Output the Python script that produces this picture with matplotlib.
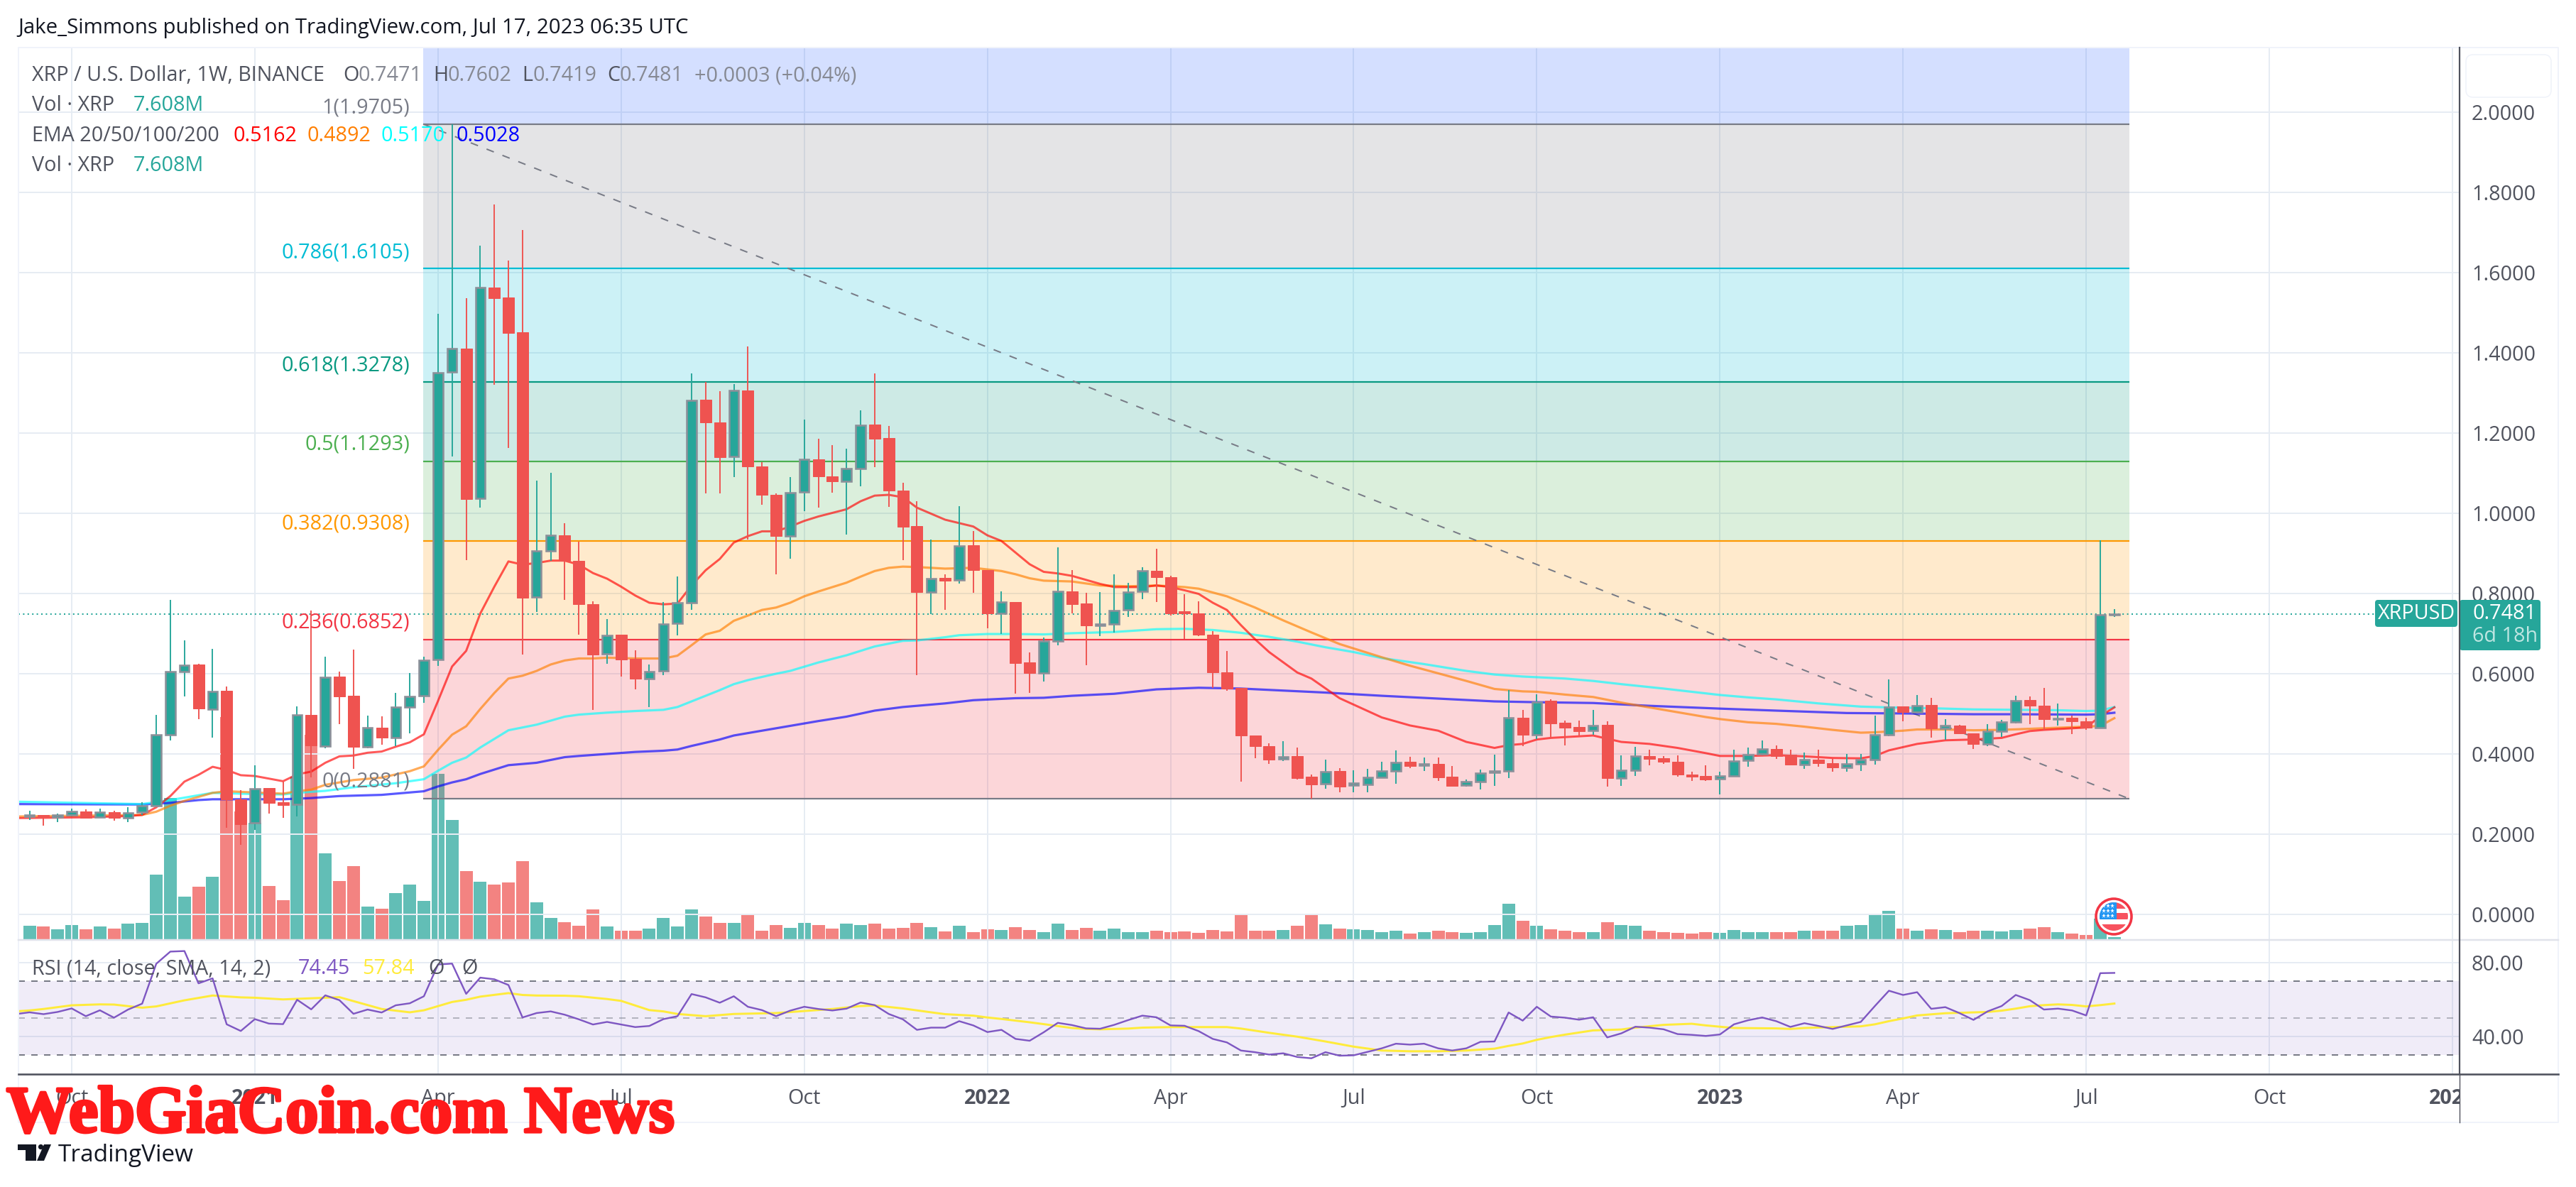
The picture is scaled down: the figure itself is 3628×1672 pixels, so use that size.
import numpy as np
import matplotlib
matplotlib.use("Agg")
import matplotlib.pyplot as plt
from matplotlib.patches import Rectangle, Circle, FancyBboxPatch, Polygon
from matplotlib.transforms import Bbox, TransformedBbox, IdentityTransform
from matplotlib.ticker import FuncFormatter
import matplotlib.patheffects as pe

# ---------- data ----------
opens = [.245,.247,.243,.248,.256,.243,.254,.240,.254,.271,
 .448,.606,.623,.512,.558,.287,.228,.315,.279,.275,
 .497,.420,.593,.546,.418,.465,.441,.516,.546,.635,
 1.352,1.41,1.038,1.562,1.538,1.451,.791,.906,.946,.882,
 .773,.649,.697,.637,.588,.607,.726,.777,1.283,1.226,
 1.142,1.307,1.117,1.046,.943,1.053,1.135,1.092,1.08,1.112,
 1.221,1.187,1.057,.968,.803,.839,.834,.921,.858,.751,
 .779,.629,.601,.682,.806,.775,.721,.724,.759,.805,
 .857,.840,.755,.750,.698,.604,.565,.446,.420,.387,
 .394,.343,.325,.357,.323,.324,.342,.358,.380,.372,
 .375,.344,.322,.331,.354,.358,.490,.448,.532,.477,
 .468,.459,.472,.339,.360,.395,.390,.381,.349,.345,
 .338,.345,.384,.400,.413,.399,.373,.386,.377,.367,
 .375,.386,.448,.518,.505,.522,.464,.471,.451,.425,
 .456,.480,.535,.520,.487,.490,.482,.466,.7471]
closes = [.247,.243,.248,.256,.241,.254,.240,.253,.270,.447,
 .606,.622,.514,.556,.287,.225,.313,.277,.273,.497,
 .422,.591,.544,.418,.465,.440,.516,.543,.633,1.35,
 1.41,1.036,1.562,1.536,1.45,.789,.906,.946,.882,.773,
 .647,.696,.635,.587,.606,.724,.777,1.281,1.226,1.14,
 1.306,1.117,1.046,.943,1.052,1.135,1.092,1.08,1.111,1.219,
 1.186,1.056,.967,.803,.838,.832,.918,.858,.751,.778,
 .626,.601,.682,.805,.774,.720,.724,.758,.804,.856,
 .840,.751,.750,.698,.604,.563,.446,.420,.386,.393,
 .340,.324,.356,.319,.327,.342,.357,.378,.370,.375,
 .342,.321,.331,.353,.358,.490,.447,.530,.476,.466,
 .456,.471,.339,.359,.394,.388,.380,.348,.344,.337,
 .345,.383,.399,.413,.395,.373,.385,.377,.366,.375,
 .386,.447,.517,.504,.520,.464,.471,.451,.424,.456,
 .480,.533,.520,.486,.489,.482,.466,.7471,.7481]
highs = [.259,.248,.251,.263,.262,.264,.258,.267,.279,.497,
 .784,.683,.625,.662,.569,.310,.372,.315,.331,.518,
 .757,.643,.606,.660,.495,.493,.553,.602,.643,1.497,
 1.9705,1.536,1.668,1.77,1.63,1.707,1.082,1.10,.976,.930,
 .780,.736,.697,.658,.623,.779,.842,1.349,1.327,1.304,
 1.323,1.416,1.128,1.05,1.09,1.234,1.186,1.17,1.161,1.257,
 1.348,1.218,1.076,1.03,.934,.848,1.017,.955,.858,.806,
 .779,.653,.69,.915,.859,.802,.804,.848,.827,.865,
 .912,.844,.799,.781,.706,.656,.565,.446,.426,.432,
 .416,.348,.385,.365,.360,.362,.381,.409,.393,.392,
 .392,.370,.336,.361,.399,.559,.510,.548,.537,.484,
 .484,.510,.481,.397,.418,.411,.395,.397,.355,.372,
 .355,.410,.416,.433,.422,.410,.403,.410,.387,.400,
 .400,.495,.585,.518,.547,.539,.487,.473,.451,.474,
 .485,.545,.543,.565,.525,.495,.491,.9328,.7602]
lows = [.235,.221,.230,.245,.239,.242,.233,.230,.248,.271,
 .433,.543,.487,.440,.216,.174,.210,.252,.241,.244,
 .342,.415,.474,.362,.415,.423,.419,.451,.528,.619,
 1.141,.884,1.014,1.321,1.162,.647,.754,.882,.784,.698,
 .510,.625,.593,.561,.516,.597,.696,.759,1.049,1.049,
 1.09,.935,1.022,.848,.886,1.006,1.014,1.052,.947,1.068,
 1.115,1.016,.884,.597,.749,.759,.824,.801,.713,.699,
 .551,.553,.58,.671,.751,.622,.694,.702,.741,.786,
 .779,.745,.686,.694,.565,.558,.331,.389,.375,.382,
 .337,.288,.314,.304,.304,.304,.339,.325,.364,.358,
 .332,.321,.319,.312,.320,.340,.419,.438,.439,.422,
 .444,.448,.319,.321,.345,.372,.375,.344,.332,.333,
 .300,.344,.369,.396,.387,.373,.362,.368,.356,.356,
 .357,.373,.444,.482,.501,.440,.436,.449,.412,.419,
 .442,.476,.474,.458,.470,.450,.460,.464,.7419]
volumes_m = [48,44,36,49,34,44,38,54,57,227,
 497,149,184,219,782,450,410,187,137,572,
 719,302,204,257,114,107,162,192,134,583,
 420,239,203,193,200,275,130,75,60,48,
 105,46,31,31,38,74,44,104,80,
 58,58,90,30,50,40,58,50,38,55,50,55,38,40,58,43,28,48,25,35,33,43,33,25,55,33,40,30,38,25,25,30,25,28,23,33,28,85,30,30,33,48,90,53,38,
 34,32,26,29,19,26,29,24,22,26,49,125,64,47,34,29,26,26,59,49,47,29,24,22,19,24,22,32,24,24,26,24,29,29,29,47,49,90,99,37,29,34,32,24,29,29,
 28,32,37,42,25,20,15,73,7.608]

ema20_idx = [-1,4,7,8,9,10,11,12,13,14,15,16,18,19,20,21,22,23,24,25,26,27,28,29,30,31,32,33,34,35,36,37,38,39,40,41,42,43,44,45,46,47,48,49,50,51,52,53,54,55,56,57,58,59,60,61,62,63,65,67,68,69,71,72,73,74,76,77,79,80,81,82,83,84,85,86,87,88,90,91,93,94,96,98,100,102,104,105,106,107,108,110,111,113,115,117,119,120,122,124,126,128,130,131,132,133,134,136,138,140,141,142,143,145,146,147,148]
ema20 = [.240,.242,.245,.248,.267,.295,.331,.348,.368,.360,.347,.345,.332,.349,.356,.378,.394,.396,.403,.406,.418,.429,.449,.532,.618,.657,.750,.817,.880,.872,.876,.882,.882,.872,.851,.837,.817,.795,.777,.773,.775,.820,.858,.886,.927,.943,.955,.955,.967,.981,.992,1.001,1.010,1.030,1.044,1.046,1.040,1.014,.984,.967,.945,.931,.873,.854,.850,.844,.824,.816,.816,.820,.816,.808,.799,.777,.759,.721,.686,.654,.603,.588,.539,.523,.491,.471,.458,.430,.415,.422,.425,.436,.440,.444,.446,.430,.425,.415,.402,.395,.395,.397,.394,.390,.389,.395,.409,.417,.425,.434,.436,.440,.449,.457,.460,.464,.466,.494,.5162]
ema50_idx = [-1,8,9,10,11,13,14,18,19,20,21,23,25,27,28,29,30,31,32,33,34,35,36,37,38,39,40,41,43,45,46,47,48,49,50,51,52,53,54,55,56,58,59,60,61,62,63,65,67,69,70,71,72,74,76,78,80,82,83,85,87,89,91,93,94,96,98,100,102,104,106,107,109,111,113,115,117,119,120,122,124,126,128,130,131,132,133,134,136,138,140,143,146,147,148]
ema50 = [.244,.248,.256,.271,.283,.303,.307,.301,.307,.311,.323,.335,.341,.357,.369,.410,.448,.469,.512,.552,.588,.595,.607,.623,.633,.638,.638,.640,.638,.638,.645,.671,.698,.707,.732,.745,.759,.765,.777,.793,.805,.827,.842,.856,.864,.867,.866,.862,.864,.856,.848,.838,.832,.830,.820,.818,.820,.816,.812,.793,.765,.733,.703,.674,.663,.641,.620,.601,.582,.562,.556,.555,.548,.542,.528,.516,.504,.492,.487,.479,.475,.468,.460,.453,.454,.456,.458,.461,.461,.459,.460,.464,.468,.470,.4892]
ema100_idx = [-1,8,10,11,13,16,18,19,21,23,26,28,29,30,31,32,34,36,38,39,41,43,45,46,47,49,50,51,53,54,56,58,60,62,63,65,66,68,70,72,74,77,80,82,84,86,88,90,92,94,96,99,102,104,106,109,111,113,116,120,122,124,127,130,132,135,138,141,144,146,147,148]
ema100 = [.281,.275,.285,.291,.303,.300,.299,.303,.308,.317,.327,.337,.358,.378,.391,.416,.459,.473,.493,.498,.503,.507,.510,.517,.531,.559,.574,.584,.600,.607,.628,.646,.668,.682,.683,.691,.696,.699,.699,.698,.701,.704,.711,.712,.709,.702,.692,.680,.666,.654,.639,.624,.607,.598,.593,.588,.582,.574,.563,.547,.541,.536,.526,.518,.516,.514,.511,.510,.509,.507,.508,.5170]
ema200_idx = [-1,8,10,12,13,18,20,22,25,28,29,30,31,32,34,36,38,39,41,43,45,46,47,49,50,53,56,58,60,62,65,67,70,72,74,77,80,83,86,89,92,96,100,104,107,111,115,120,124,129,133,138,141,146,147,148]
ema200 = [.275,.274,.278,.285,.287,.287,.290,.295,.298,.307,.319,.329,.337,.350,.372,.378,.392,.395,.400,.405,.408,.411,.420,.436,.446,.464,.482,.493,.508,.517,.526,.534,.539,.540,.545,.550,.561,.565,.563,.558,.553,.545,.538,.531,.529,.527,.520,.513,.508,.502,.501,.499,.499,.498,.499,.5028]

rsi_idx = list(range(-1, 149))
rsi = [52.1,53.1,52.1,53.3,55.2,51.0,54.2,50.2,54.6,57.8,79.4,
 86.0,86.3,68.8,71.5,46.6,43.0,49.4,47.0,46.7,59.9,
 54.7,62.3,59.7,52.3,54.6,53.0,56.9,58.0,61.8,79.0,
 79.5,63.1,71.9,71.0,67.9,50.3,52.7,53.6,51.8,49.3,
 46.5,47.9,46.5,45.1,45.7,49.4,51.0,63.0,61.2,58.3,
 61.8,56.1,54.3,51.0,54.0,56.1,54.9,54.1,55.1,58.4,
 57.0,52.2,49.3,43.6,44.8,44.8,48.3,46.0,42.4,43.6,
 38.7,37.7,42.3,47.4,46.2,44.4,44.2,46.3,48.9,51.3,
 50.4,46.0,45.8,42.9,38.7,36.8,32.4,31.5,30.2,30.9,
 28.9,28.2,31.5,29.6,29.8,31.7,33.6,36.1,35.6,36.1,
 33.6,32.4,33.6,37.1,37.3,53.0,48.6,56.1,50.8,50.2,
 49.1,50.4,39.5,41.7,45.3,44.8,43.9,41.3,40.9,40.3,
 41.1,46.6,48.8,50.3,48.3,45.2,47.2,45.7,44.1,46.0,
 47.9,56.5,64.8,62.5,64.0,55.0,55.9,52.7,49.0,53.6,
 56.5,62.5,59.7,54.6,55.1,54.1,51.4,74.3,74.45]
rsi_ma_idx = [-1,0,1,3,5,6,8,9,11,13,15,16,18,20,22,25,27,28,30,31,32,34,35,36,38,39,41,42,44,45,46,48,50,53,55,57,59,60,62,64,65,67,68,69,71,72,74,75,76,78,79,81,83,85,86,88,90,92,94,96,98,100,102,104,105,106,107,108,109,111,113,114,116,118,119,121,124,125,126,128,130,131,132,133,134,136,139,140,141,142,143,144,145,146,147,148]
rsi_ma = [53.6,54.1,54.9,56.9,57.4,57.3,55.6,56.3,59.6,62.2,61.2,61.0,60.1,60.7,61.3,54.9,53.1,54.2,58.7,59.9,61.6,63.5,62.5,62.2,62.1,61.8,60.3,59.3,54.3,53.6,52.2,51.0,52.2,52.7,53.8,54.9,56.5,56.8,55.2,53.1,52.1,51.3,50.3,49.5,47.7,46.7,44.6,44.1,43.9,44.3,44.8,45.1,45.1,45.1,44.3,42.0,39.9,37.3,34.5,32.4,32.0,32.0,32.4,33.4,34.9,36.2,38.2,39.7,41.0,43.3,43.8,44.8,46.3,46.9,46.0,44.6,44.4,44.1,44.6,45.1,45.5,46.6,48.3,49.8,51.4,52.6,53.3,54.0,55.1,56.4,57.0,57.4,57.1,56.3,57.0,57.84]

fib_levels = [1.9705,1.6105,1.3278,1.1293,0.9308,0.6852,0.2881]
fib_ratios = ["1","0.786","0.618","0.5","0.382","0.236","0"]
fib_colors = ["#787b86","#00bcd4","#089981","#4caf50","#ff9800","#f23645","#787b86"]
fib_label_y = [150,354,513,624,736,875,1099]
fib_top_band = 2.3
fib_top_color = "#2962ff"

month_idx = [3,16,29,42,55,68,81,94,107,120,133,146,159,172]
month_lbl = ["Oct","2021","Apr","Jul","Oct","2022","Apr","Jul","Oct","2023","Apr","Jul","Oct","2024"]
price_ticks = [0.0,0.2,0.4,0.6,0.8,1.0,1.2,1.4,1.6,1.8,2.0]
rsi_ticks = [40,80]
last_close = 0.7481

# ---------- canvas ----------
W, H = 3628, 1672
plt.rcParams['font.family'] = ['Open Sans', 'DejaVu Sans']
fig = plt.figure(figsize=(W/100, H/100), dpi=100, facecolor='white')

def rect(l, t, r, b):
    return [l/W, 1-b/H, (r-l)/W, (b-t)/H]

PX = 0.72   # one pixel in points
L, R, T, B1, B2 = 25.5, 3464, 67, 1323, 1513
XMIN, XMAX = (L-41.5)/19.84, (R-41.5)/19.84
n = len(opens)
x = np.arange(n)
o, c, h, l_ = map(np.array, (opens, closes, highs, lows))
up = c >= o
GREEN, RED = "#26a69a", "#ef5350"
GRID = "#e6ecf3"
AX_TXT = "#50535e"
FS = 20.7

ax_vol = fig.add_axes(rect(L, T, R, B1), zorder=1)
ax = fig.add_axes(rect(L, T, R, B1), zorder=2)
ax_rsi = fig.add_axes(rect(L, B1+2, R, B2), zorder=2)
ov = fig.add_axes([0, 0, 1, 1], zorder=10)
ov.set_xlim(0, W); ov.set_ylim(H, 0); ov.axis('off'); ov.patch.set_alpha(0)

# volume
ax_vol.set_xlim(XMIN, XMAX)
ax_vol.set_ylim(0, (B1-T)*2.5)
ax_vol.axis('off')
ax_vol.bar(x[up], np.array(volumes_m)[up], width=18/19.84, color=GREEN, alpha=0.72, lw=0)
ax_vol.bar(x[~up], np.array(volumes_m)[~up], width=18/19.84, color=RED, alpha=0.72, lw=0)

# main pane
ax.patch.set_alpha(0)
ax.set_xlim(XMIN, XMAX)
ax.set_ylim((1288-B1)/565, (1288-T)/565)
for s in ax.spines.values():
    s.set_visible(False)
ax.set_xticks(month_idx)
ax.set_yticks(price_ticks)
ax.yaxis.tick_right()
ax.yaxis.set_major_formatter(FuncFormatter(lambda v, _: f"{v:.4f}"))
ax.tick_params(axis='both', length=0, labelbottom=False, labelsize=FS, labelcolor=AX_TXT)
ax.tick_params(axis='y', pad=17*PX)
ax.grid(True, color=GRID, lw=2*PX, zorder=0)
ax.set_axisbelow(True)

fx0, fx1 = (596-41.5)/19.84, (2999-41.5)/19.84
ax.fill_between([fx0, fx1], fib_levels[0], fib_top_band, color=fib_top_color, alpha=0.2, lw=0, zorder=1)
for i in range(len(fib_levels)-1):
    ax.fill_between([fx0, fx1], fib_levels[i+1], fib_levels[i], color=fib_colors[i], alpha=0.2, lw=0, zorder=1)
for lev, col in zip(fib_levels, fib_colors):
    ax.plot([fx0, fx1], [lev, lev], color=col, lw=2.2*PX, zorder=2, solid_capstyle='butt')
ax.plot([fx0, fx1], [fib_levels[0], fib_levels[-1]], color="#787b86", lw=2*PX,
        dashes=(5.5, 6.5), zorder=2)

for xs, ys, col, lw in [(ema200_idx, ema200, "#0000ff", 3.2), (ema100_idx, ema100, "#00ffff", 3.2),
                        (ema50_idx, ema50, "#ff7f00", 3.2), (ema20_idx, ema20, "#ff0000", 3.0)]:
    ax.plot(xs, ys, color=col, alpha=0.65, lw=lw*PX, zorder=3)

ax.hlines(last_close, XMIN, (3345-41.5)/19.84, color=GREEN, lw=2*PX, linestyles=(0, (1, 2.2)), zorder=3)

ax.vlines(x, l_, h, colors=np.where(up, GREEN, RED), lw=1.9*PX, zorder=4)
ax.bar(x[~up], (o-c)[~up], bottom=c[~up], width=16/19.84, color=RED, edgecolor=RED, lw=1*PX, zorder=5)
ax.bar(x[up], (c-o)[up], bottom=o[up], width=13.5/19.84, color=GREEN, edgecolor="#8b9099", lw=2.6*PX, zorder=5)

# RSI pane
ax_rsi.patch.set_alpha(0)
ax_rsi.set_xlim(XMIN, XMAX)
ax_rsi.set_ylim(40-(B2-1460)/2.6, 40+(1460-(B1+2))/2.6)
for s in ax_rsi.spines.values():
    s.set_visible(False)
ax_rsi.set_xticks(month_idx, month_lbl)
ax_rsi.set_yticks(rsi_ticks)
ax_rsi.yaxis.tick_right()
ax_rsi.yaxis.set_major_formatter(FuncFormatter(lambda v, _: f"{v:.2f}"))
ax_rsi.tick_params(axis='both', length=0, labelsize=FS, labelcolor=AX_TXT)
ax_rsi.tick_params(axis='y', pad=17*PX)
ax_rsi.tick_params(axis='x', pad=20*PX)
ax_rsi.grid(True, color=GRID, lw=2*PX)
ax_rsi.set_axisbelow(True)
ax_rsi.axhspan(30, 70, color="#7e57c2", alpha=0.11, lw=0, zorder=1)
for lev, a in [(70, 1), (50, 0.5), (30, 1)]:
    ax_rsi.axhline(lev, color="#787b86", alpha=a, lw=2*PX, dashes=(4.5, 4.5), zorder=2)
ax_rsi.plot(rsi_ma_idx, rsi_ma, color="#ffeb3b", lw=3*PX, zorder=3)
ax_rsi.plot(rsi_idx, rsi, color="#7e57c2", lw=2.4*PX, zorder=4)

clip = TransformedBbox(Bbox([[0, 0], [R, H]]), IdentityTransform())
for lab in ax_rsi.get_xticklabels():
    if lab.get_text().isdigit():
        lab.set_fontweight('bold')
    lab.set_clip_on(True)
    lab.set_clip_box(clip)

# frame lines
BORDER = "#f0f3fa"
ov.plot([L, 3603, 3603, L, L], [T, T, 1581, 1581, T], color=BORDER, lw=2*PX)
ov.plot([L, 3603], [B1+0.5, B1+0.5], color="#e0e3eb", lw=2.5*PX)
ov.plot([L, 3603], [B2, B2], color=AX_TXT, lw=2.6*PX)
ov.plot([R, R], [T, B2], color=AX_TXT, lw=2.2*PX)
ov.plot([R, R], [B2, 1581], color=AX_TXT, lw=1.4*PX)
ov.add_patch(FancyBboxPatch((3473+6, 77+6), 120-12, 60-12, boxstyle="round,pad=6,rounding_size=10",
                            fc='white', ec=BORDER, lw=1.6*PX))

def T_(xp, yp, s, color=AX_TXT, ha='left', fs=FS, **kw):
    return ov.text(xp, yp+2, s, color=color, ha=ha, va='center', fontsize=fs, **kw)

# header + legend
T_(25, 38, "Jake_Simmons published on TradingView.com, Jul 17, 2023 06:35 UTC", color="#131722", fs=21.2)
GRAY = "#868993"
T_(45, 105, "XRP / U.S. Dollar, 1W, BINANCE")
for xp, s, col in [(483, "O", AX_TXT), (505, "0.7471", GRAY), (610, "H", AX_TXT), (630, "0.7602", GRAY),
                   (735, "L", AX_TXT), (751, "0.7419", GRAY), (855, "C", AX_TXT), (873, "0.7481", GRAY),
                   (978, "+0.0003 (+0.04%)", GRAY)]:
    T_(xp, 105, s, color=col)
for yp in (147, 231.5):
    T_(45, yp, "Vol · XRP")
    T_(188, yp, "7.608M", color=GREEN)
T_(45, 189.5, "EMA 20/50/100/200")
for xp, s, col in [(328, "0.5162", "#ff0000"), (433, "0.4892", "#ff7f00"), (537, "0.5170", "#00ffff"), (643, "0.5028", "#0000ff")]:
    T_(xp, 189.5, s, color=col)
for r_, lev, col, yp in zip(fib_ratios, fib_levels, fib_colors, fib_label_y):
    T_(577, yp, f"{r_}({lev:.4f})", color=col, ha='right')

# RSI legend
T_(45, 1363, "RSI (14, close, SMA, 14, 2)")
T_(420, 1363, "74.45", color="#7e57c2")
T_(510, 1363, "57.84", color="#ffeb3b")
T_(603, 1363, "Ø")
T_(650, 1363, "Ø")

# last price labels
ov.add_patch(FancyBboxPatch((3349, 849), 108, 30, boxstyle="round,pad=4,rounding_size=4", fc=GREEN, ec='none'))
ov.add_patch(FancyBboxPatch((3468, 849), 106, 63, boxstyle="round,pad=4,rounding_size=4", fc=GREEN, ec='none'))
T_(3403, 863, "XRPUSD", color='white', ha='center')
T_(3482, 863, "0.7481", color='white')
T_(3482, 894, "6d 18h", color='#bfe6e2')

# flag marker
cx, cy = 2977, 1291
ov.add_patch(Circle((cx, cy), 25, fc='white', ec="#f23645", lw=3.6*PX, zorder=5))
clipc = Circle((cx, cy), 20, transform=ov.transData)
for y0, y1, col in [(1270, 1279.5, "#f7525f"), (1286.3, 1295, "#f7525f"), (1302, 1312, "#f7525f")]:
    pa = Rectangle((cx-21, y0), 42, y1-y0, fc=col, ec='none', zorder=6)
    ov.add_patch(pa); pa.set_clip_path(clipc)
pa = Rectangle((cx-21, 1270), 25, 25, fc="#2196f3", ec='none', zorder=7)
ov.add_patch(pa); pa.set_clip_path(clipc)
for yy in (1276, 1283, 1290):
    for xx in (cx-14, cx-8, cx-2):
        ov.plot(xx, yy, marker='*', ms=5, color='white', mew=0, zorder=8)

# TradingView logo
DARK = "#131722"
ov.add_patch(Rectangle((25, 1612), 26, 8, fc=DARK, ec='none'))
ov.add_patch(Rectangle((36, 1612), 15, 23, fc=DARK, ec='none'))
ov.add_patch(Circle((57.5, 1615.5), 3.6, fc=DARK, ec='none'))
ov.add_patch(Polygon([(62, 1612), (72, 1612), (62, 1635), (52, 1635)], fc=DARK, ec='none'))
T_(82, 1625, "TradingView", color=DARK, fs=24)

# watermark
T_(9, 1570, "WebGiaCoin.com News", color="#ff1a1a", fs=67, family='Liberation Serif', fontweight='bold',
   path_effects=[pe.withStroke(linewidth=3, foreground="#ff1a1a")], zorder=20)

fig.savefig("out.png", dpi=100, facecolor='white')
